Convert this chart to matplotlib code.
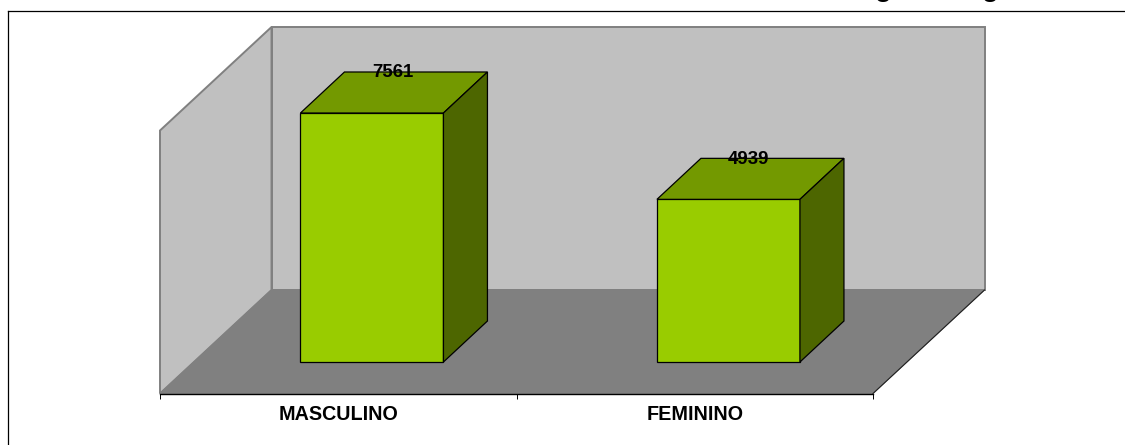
import matplotlib
matplotlib.use("Agg")
import matplotlib.pyplot as plt
from matplotlib.patches import Polygon
from matplotlib.lines import Line2D

plt.rcParams['font.family'] = ['Liberation Sans', 'DejaVu Sans']

categories = ['MASCULINO', 'FEMININO']
values = [7561, 4939]

W, H = 1125, 445
fig = plt.figure(figsize=(W / 100, H / 100), dpi=100, facecolor='white')

# Page frame fragments (top and left rules only)
fig.add_artist(Line2D([7.5 / W, 7.5 / W], [0, 1 - 10.5 / H], color='black', lw=0.9))
fig.add_artist(Line2D([7.5 / W, 1], [1 - 10.5 / H, 1 - 10.5 / H], color='black', lw=0.9))

# Descenders of the title cropped by the top of the picture
for xp in (883, 990):
    fig.text(xp / W, 1 + 4 / H, 'g', fontsize=20, fontweight='bold', ha='center',
             va='baseline', color='black')

# Axes: categories on x, values on y. Value 0 is the front foot of the bars.
px_left, px_right, px_floor, px_base, px_top = 160.0, 873.0, 393.5, 362.0, 10.0
scale = 249.0 / 7561            # pixels per unit of value
ax = fig.add_axes([px_left / W, 1 - px_floor / H, (px_right - px_left) / W, (px_floor - px_top) / H])
ax.set_xlim(-0.5, 1.5)
ax.set_ylim(-(px_floor - px_base) / scale, (px_base - px_top) / scale)
ax.patch.set_visible(False)
for name, sp in ax.spines.items():
    sp.set_visible(name == 'bottom')
ax.spines['bottom'].set_linewidth(1.0)
ax.yaxis.set_visible(False)

ax.set_xticks(range(len(categories)))
ax.set_xticklabels(categories, fontsize=14.2, fontweight='bold', color='black')
ax.tick_params(axis='x', which='major', length=0, pad=8.2)
ax.set_xticks([-0.5, 0.5, 1.5], minor=True)
ax.tick_params(axis='x', which='minor', length=3.6, width=0.7, color='black')

# Unit conversion for the oblique depth
ux = 2.0 / (px_right - px_left)     # category units per pixel
uy = 1.0 / scale                    # value units per pixel

y_floor = ax.get_ylim()[0]
x0 = -0.5
x1 = 1.5
ddx_wall = 111.5 * ux
ddy_wall = 103.5 * uy
wall_h = 263 * uy


def poly(pts, fc, ec, lw, z):
    ax.add_patch(Polygon(pts, closed=True, facecolor=fc, edgecolor=ec, linewidth=lw,
                         zorder=z, clip_on=False, joinstyle='miter'))


back = [(x0 + ddx_wall, y_floor + ddy_wall), (x1 + ddx_wall, y_floor + ddy_wall),
        (x1 + ddx_wall, y_floor + ddy_wall + wall_h), (x0 + ddx_wall, y_floor + ddy_wall + wall_h)]
left = [(x0, y_floor), (x0 + ddx_wall, y_floor + ddy_wall),
        (x0 + ddx_wall, y_floor + ddy_wall + wall_h), (x0, y_floor + wall_h)]
floor = [(x0, y_floor), (x1, y_floor), (x1 + ddx_wall, y_floor + ddy_wall), (x0 + ddx_wall, y_floor + ddy_wall)]
poly(back, '#C0C0C0', '#808080', 1.4, 1)
poly(left, '#C0C0C0', '#808080', 1.4, 1)
poly(floor, '#808080', '#808080', 0.8, 2)
ax.plot([x1, x1 + ddx_wall], [y_floor, y_floor + ddy_wall], color='#202020', lw=0.8, zorder=3, clip_on=False)

# Bars as oblique boxes, set back from the front edge of the floor
half = 71.5 * ux
shift = 33.7 * ux
ddx = 44 * ux
ddy = 41 * uy
label_dx = 20.5 * ux
label_dy = -0.8 * uy
for i, v in enumerate(values):
    c = i + shift
    l, r = c - half, c + half
    poly([(l, 0), (r, 0), (r, v), (l, v)], '#99CC00', 'black', 0.9, 5)
    poly([(l, v), (r, v), (r + ddx, v + ddy), (l + ddx, v + ddy)], '#739900', 'black', 0.9, 5)
    poly([(r, 0), (r + ddx, ddy), (r + ddx, v + ddy), (r, v)], '#4D6600', 'black', 0.9, 5)
    ax.text(c + label_dx, v + ddy + label_dy, str(v), ha='center', va='center', fontsize=13.4,
            fontweight='bold', color='black', zorder=6, clip_on=False)

fig.savefig('out.png', dpi=100, facecolor='white')
